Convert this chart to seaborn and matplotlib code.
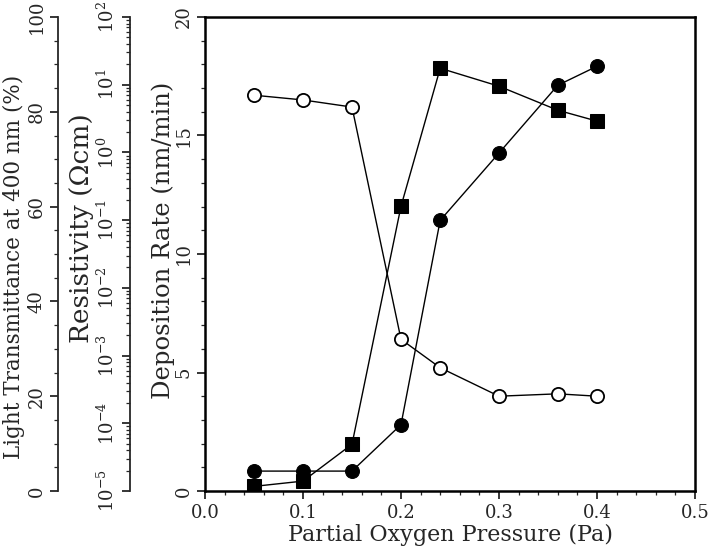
import numpy as np
import pandas as pd
import matplotlib
matplotlib.use("Agg")
import matplotlib.pyplot as plt
import seaborn as sns
from matplotlib.ticker import MultipleLocator, FixedLocator, NullFormatter

pressure = [0.05, 0.10, 0.15, 0.20, 0.24, 0.30, 0.36, 0.40]
deposition_rate = [16.7, 16.5, 16.2, 6.4, 5.2, 4.0, 4.1, 4.0]          # open circles
transmittance = [4.2, 4.2, 4.2, 14.0, 57.1, 71.3, 85.6, 89.6]          # filled circles
resistivity = [1.17e-5, 1.40e-5, 4.9e-5, 1.6e-1, 1.75e1, 9.5e0, 4.2e0, 2.9e0]  # filled squares

x_ticks = [0.0, 0.1, 0.2, 0.3, 0.4, 0.5]
res_decades = [-5, -4, -3, -2, -1, 0, 1, 2]

sns.set_style("ticks")
plt.rcParams['font.family'] = ['DejaVu Serif', 'DejaVu Sans']
plt.rcParams['mathtext.fontset'] = 'dejavuserif'

fig = plt.figure(figsize=(7.08, 5.52), dpi=100)
ax = fig.add_axes([205/708, 1 - 491/552, 490/708, (491 - 17)/552])

ax_t = ax.twinx()
ax_r = ax.twinx()

df = pd.DataFrame({"p": pressure, "dep": deposition_rate, "tr": transmittance, "res": resistivity})

sns.lineplot(data=df, x="p", y="dep", ax=ax, color="black", lw=1.0, marker="o",
             markersize=9.5, markerfacecolor="white", markeredgecolor="black", markeredgewidth=1.3)
sns.lineplot(data=df, x="p", y="tr", ax=ax_t, color="black", lw=1.0, marker="o",
             markersize=10, markerfacecolor="black", markeredgecolor="black")
sns.lineplot(data=df, x="p", y="res", ax=ax_r, color="black", lw=1.0, marker="s",
             markersize=9.5, markerfacecolor="black", markeredgecolor="black")

ax.set_xlim(0.0, 0.5)
ax.set_ylim(0, 20)
ax_t.set_ylim(0, 100)
ax_r.set_yscale("log")
ax_r.set_ylim(1e-5, 1e2)

ax.set_xticks(x_ticks)
ax.set_xticklabels([f"{v:.1f}" for v in x_ticks])
ax.xaxis.set_minor_locator(MultipleLocator(0.02))
ax.yaxis.set_major_locator(MultipleLocator(5))
ax.yaxis.set_minor_locator(MultipleLocator(1))
ax_t.yaxis.set_major_locator(MultipleLocator(20))
ax_t.yaxis.set_minor_locator(MultipleLocator(5))

major_res = [10.0 ** d for d in res_decades]
minor_res = [m * 10.0 ** d for d in res_decades[:-1] for m in range(2, 10)]
ax_r.yaxis.set_major_locator(FixedLocator(major_res))
ax_r.yaxis.set_minor_locator(FixedLocator(minor_res))
ax_r.yaxis.set_minor_formatter(NullFormatter())
ax_r.set_yticklabels([f"$10^{{{d}}}$" for d in res_decades])

for a in (ax_t, ax_r):
    a.yaxis.set_ticks_position("left")
    a.yaxis.set_label_position("left")
    a.spines["right"].set_visible(False)
    a.spines["top"].set_visible(False)
    a.spines["bottom"].set_visible(False)
    a.spines["left"].set_visible(True)
ax_t.spines["left"].set_position(("axes", (58 - 205) / 490))
ax_r.spines["left"].set_position(("axes", (130 - 205) / 490))

for s in ax.spines.values():
    s.set_linewidth(1.8)
    s.set_color("black")
ax_t.spines["left"].set_linewidth(1.3)
ax_r.spines["left"].set_linewidth(1.3)

ax.tick_params(axis="x", which="major", length=6, width=1.3, labelsize=13, direction="out", pad=3)
ax.tick_params(axis="x", which="minor", length=3, width=0.9, direction="out")
ax.tick_params(axis="y", which="major", length=6, width=1.3, labelsize=13, labelrotation=90,
               direction="out", pad=3)
ax.tick_params(axis="y", which="minor", length=3, width=0.9, direction="out")
for a in (ax_t, ax_r):
    a.tick_params(axis="y", which="major", length=6, width=1.3, labelsize=13, labelrotation=90,
                  direction="out", left=True, right=False, labelleft=True, labelright=False, pad=3)
    a.tick_params(axis="y", which="minor", length=3, width=0.9, direction="out",
                  left=True, right=False)
for a in (ax, ax_t, ax_r):
    for lbl in a.get_yticklabels():
        lbl.set_va("center")

ax.set_xlabel("Partial Oxygen Pressure (Pa)", fontsize=16, labelpad=2)
ax.set_ylabel("Deposition Rate (nm/min)", fontsize=17.5)
ax_t.set_ylabel("Light Transmittance at 400 nm (%)", fontsize=15.5)
ax_r.set_ylabel("Resistivity (\u03a9cm)", fontsize=19)

ax.yaxis.set_label_coords((175 - 205) / 490, (491 - 240) / 474)
ax_t.yaxis.set_label_coords((25 - 205) / 490, (491 - 267) / 474)
ax_r.yaxis.set_label_coords((94 - 205) / 490, (491 - 228) / 474)

fig.savefig("out.png", dpi=100)
